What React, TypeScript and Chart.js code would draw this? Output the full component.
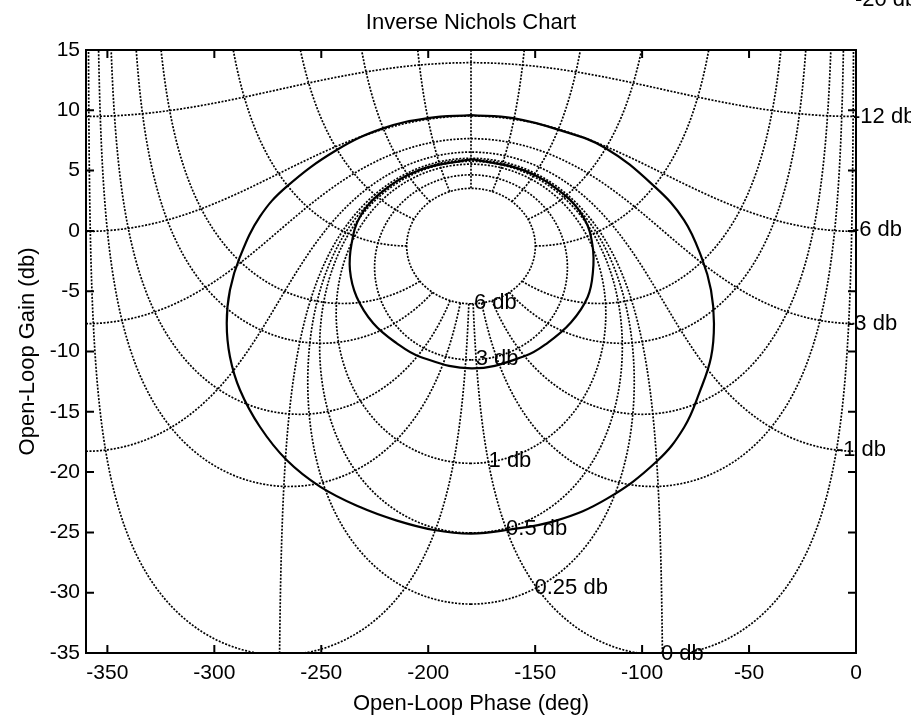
import React, { useEffect, useRef } from "react";
import { Chart, registerables } from "chart.js";

Chart.register(...registerables);

const W = 911;
const H = 724;
const FONT = "'Liberation Sans', Arial, Helvetica, sans-serif";

// axis ticks
const xTicks = [-350, -300, -250, -200, -150, -100, -50, 0];
const yTicks = [15, 10, 5, 0, -5, -10, -15, -20, -25, -30, -35];

// closed-loop magnitude contours (dB) and closed-loop phase contours (deg) of the grid
const closedLoopGains = [6, 3, 1, 0.5, 0.25, 0, -1, -3, -6, -12, -20];
const closedLoopPhases = [1, 5, 10, 20, 30, 60, 90, 120, 150, 180, -1, -5, -10, -20, -30, -60, -90, -120, -150];

// contour labels
const contourLabels = ["6 db", "3 db", "1 db", "0.5 db", "0.25 db", "0 db", "-1 db", "-3 db", "-6 db", "-12 db", "-20 db"];
const labelPhase = [-178.6, -177.8, -171.8, -163.6, -150.3, -91.2, -9.4, -4.2, -1.9, -1.4, -0.5];
const labelGain = [-5.98, -10.62, -19.08, -24.69, -29.61, -35.07, -18.17, -7.72, 0.07, 9.47, 19.15];

// solid curves
const outerPhase = [-180.0, -160.4, -139.3, -117.4, -94.0, -80.4, -72.0, -67.8, -66.4, -67.8, -73.0, -80.4, -93.1, -116.4, -139.8, -163.2, -180.0, -197.3, -215.0, -231.9, -250.6, -266.2, -278.7, -288.0, -292.7, -294.2, -292.7, -288.0, -278.7, -266.2, -242.8, -221.2, -200.1, -180.0];
const outerGain = [9.6, 9.35, 8.4, 6.9, 3.65, 0.9, -2.3, -4.9, -7.7, -10.5, -13.3, -16.3, -19.1, -22.2, -24.0, -24.8, -25.1, -24.8, -24.0, -22.9, -21.2, -19.0, -16.24, -13.19, -10.43, -7.66, -4.9, -2.14, 1.18, 3.67, 6.71, 8.5, 9.35, 9.6];
const innerPhase = [-179.5, -155.0, -136.4, -127.0, -123.2, -123.0, -125.5, -133.3, -144.3, -155.1, -179.5, -203.9, -214.7, -225.7, -233.5, -236.6, -235.8, -231.9, -222.6, -203.9, -179.5];
const innerGain = [5.95, 5.0, 3.0, 1.0, -1.2, -3.4, -5.5, -7.6, -9.3, -10.4, -11.4, -10.43, -9.32, -7.66, -5.46, -3.24, -1.03, 1.18, 3.1, 5.05, 5.95];

type P = { x: number; y: number };

function toNichols(re: number, im: number): P {
  let th = (Math.atan2(im, re) * 180) / Math.PI;
  if (th > 0) th -= 360;
  let db = 20 * Math.log10(Math.hypot(re, im));
  if (!isFinite(db) || db < -80) db = -80;
  if (db > 40) db = 40;
  return { x: th, y: db };
}

function sampleCurve(f: (s: number) => P, a: number, b: number): P[] {
  const kx = 770 / 360;
  const ky = 603 / 50;
  let prev = f(a);
  const pts: P[] = [prev];
  let s = a;
  let ds = (b - a) / 500;
  let guard = 0;
  while (s < b && guard++ < 100000) {
    let ns = Math.min(b, s + ds);
    let q = f(ns);
    let d = Math.hypot((q.x - prev.x) * kx, (q.y - prev.y) * ky);
    while (d > 2 && ds > 1e-10) {
      ds /= 2;
      ns = Math.min(b, s + ds);
      q = f(ns);
      d = Math.hypot((q.x - prev.x) * kx, (q.y - prev.y) * ky);
    }
    pts.push(q);
    s = ns;
    prev = q;
    if (d < 1) ds *= 2;
  }
  return pts;
}

function gainContour(mdb: number): P[] {
  const c = Math.pow(10, -mdb / 20);
  const f = (psi: number) => {
    const a = (psi * Math.PI) / 180;
    return toNichols(-1 + c * Math.cos(a), c * Math.sin(a));
  };
  if (c < 1) return sampleCurve(f, 0, 360);
  return sampleCurve(f, 1e-7, 360 - 1e-7);
}

function phaseContour(phi: number, t0: number): P[] {
  const a = (phi * Math.PI) / 180;
  const f = (t: number) => toNichols(-1 + t * Math.cos(a), t * Math.sin(a));
  return sampleCurve(f, t0, 12);
}

function zipCurve(xs: number[], ys: number[]): P[] {
  return xs.map((x, i) => ({ x, y: ys[i] }));
}

const framePlugin = {
  id: "frame",
  afterDatasetsDraw(chart: any) {
    const { ctx, chartArea: a, scales } = chart;
    const sx = scales.x;
    const sy = scales.y;
    ctx.save();
    ctx.strokeStyle = "#000";
    ctx.lineWidth = 2;
    ctx.strokeRect(a.left, a.top, a.right - a.left, a.bottom - a.top);
    const tl = 8;
    ctx.beginPath();
    xTicks.forEach((v) => {
      const px = sx.getPixelForValue(v);
      ctx.moveTo(px, a.bottom);
      ctx.lineTo(px, a.bottom - tl);
      ctx.moveTo(px, a.top);
      ctx.lineTo(px, a.top + tl);
    });
    yTicks.forEach((v) => {
      const py = sy.getPixelForValue(v);
      ctx.moveTo(a.left, py);
      ctx.lineTo(a.left + tl, py);
      ctx.moveTo(a.right, py);
      ctx.lineTo(a.right - tl, py);
    });
    ctx.stroke();

    ctx.fillStyle = "#000";
    ctx.font = `22px ${FONT}`;
    ctx.textAlign = "left";
    ctx.textBaseline = "middle";
    contourLabels.forEach((txt, i) => {
      ctx.fillText(txt, sx.getPixelForValue(labelPhase[i]), sy.getPixelForValue(labelGain[i]));
    });

    ctx.textAlign = "center";
    ctx.textBaseline = "alphabetic";
    ctx.font = `22px ${FONT}`;
    ctx.fillText("Inverse Nichols Chart", (a.left + a.right) / 2, 29);
    ctx.restore();
  },
};

export default function App() {
  const ref = useRef<HTMLCanvasElement | null>(null);

  useEffect(() => {
    document.body.style.margin = "0";
    const canvas = ref.current;
    if (!canvas) return;

    const t0 = Math.pow(10, -Math.max(...closedLoopGains) / 20);
    const gridStyle = {
      showLine: true,
      pointRadius: 0,
      borderColor: "#000",
      borderWidth: 1.7,
      borderDash: [2, 1.5],
      fill: false,
      tension: 0,
    };
    const datasets: any[] = [];
    closedLoopGains.forEach((g) => datasets.push({ ...gridStyle, data: gainContour(g) }));
    closedLoopPhases.forEach((p) => datasets.push({ ...gridStyle, data: phaseContour(p, t0) }));
    const solid = { showLine: true, pointRadius: 0, borderColor: "#000", borderWidth: 2.2, fill: false, tension: 0.4 };
    datasets.push({ ...solid, data: zipCurve(outerPhase, outerGain) });
    datasets.push({ ...solid, data: zipCurve(innerPhase, innerGain) });

    const chart = new Chart(canvas, {
      type: "scatter",
      data: { datasets },
      options: {
        animation: false,
        responsive: false,
        maintainAspectRatio: false,
        devicePixelRatio: 1,
        events: [],
        layout: { padding: { left: 0, right: 55, top: 50, bottom: 0 } },
        plugins: { legend: { display: false }, tooltip: { enabled: false }, title: { display: false } },
        scales: {
          x: {
            type: "linear",
            position: "bottom",
            min: -360,
            max: 0,
            afterBuildTicks: (s: any) => {
              s.ticks = xTicks.map((v) => ({ value: v }));
            },
            afterFit: (s: any) => {
              s.height = 71;
            },
            grid: { display: false, drawTicks: false },
            border: { display: false },
            ticks: { color: "#000", font: { family: FONT, size: 21 }, padding: 8, maxRotation: 0, autoSkip: false },
            title: {
              display: true,
              text: "Open-Loop Phase (deg)",
              color: "#000",
              font: { family: FONT, size: 22, lineHeight: 1 },
              padding: { top: 0, bottom: 9 },
            },
          },
          y: {
            type: "linear",
            position: "left",
            min: -35,
            max: 15,
            afterBuildTicks: (s: any) => {
              s.ticks = yTicks.map((v) => ({ value: v }));
            },
            afterFit: (s: any) => {
              s.width = 86;
            },
            grid: { display: false, drawTicks: false },
            border: { display: false },
            ticks: { color: "#000", font: { family: FONT, size: 21 }, padding: 6, autoSkip: false },
            title: {
              display: true,
              text: "Open-Loop Gain (db)",
              color: "#000",
              font: { family: FONT, size: 22, lineHeight: 1 },
              padding: { top: 17, bottom: 0 },
            },
          },
        },
      } as any,
      plugins: [framePlugin],
    });
    return () => chart.destroy();
  }, []);

  return <canvas ref={ref} width={W} height={H} style={{ display: "block", width: W, height: H }} />;
}
